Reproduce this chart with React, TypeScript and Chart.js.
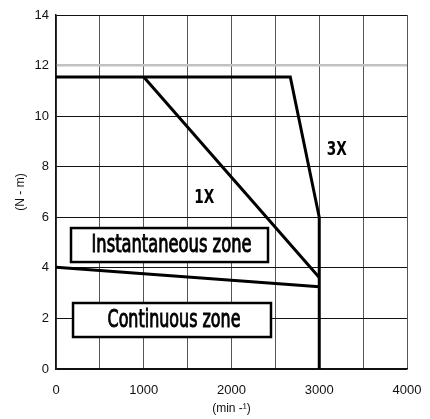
import React, { useEffect, useRef } from 'react';
import { Chart, registerables } from 'chart.js';

Chart.register(...registerables);

// Data (speed in min^-1, torque in N·m)
const peakSpeed = [0, 2670, 3000, 3000];
const peakTorque = [11.55, 11.55, 6.0, 0];
const oneXSpeed = [1000, 3000];
const oneXTorque = [11.55, 3.62];
const contSpeed = [0, 3000];
const contTorque = [4.02, 3.25];
const maxTorqueLine = 12;
const zoneLabels = ['Instantaneous zone', 'Continuous zone'];
const curveLabels = ['1X', '3X'];
const xTickLabels = [0, 1000, 2000, 3000, 4000];

const toPoints = (xs: number[], ys: number[]) => xs.map((v, i) => ({ x: v, y: ys[i] }));

const annotationPlugin = {
  id: 'zoneAnnotations',
  afterDatasetsDraw(chart: any) {
    const { ctx, scales } = chart;
    const x = scales.x;
    const y = scales.y;
    const boxes = [
      { x0: 171, x1: 2416, y0: 5.575, y1: 4.23, text: zoneLabels[0], w: 160 },
      { x0: 194, x1: 2450, y0: 2.61, y1: 1.265, text: zoneLabels[1], w: 133 },
    ];
    ctx.save();
    boxes.forEach((b) => {
      const px0 = x.getPixelForValue(b.x0);
      const px1 = x.getPixelForValue(b.x1);
      const py0 = y.getPixelForValue(b.y0);
      const py1 = y.getPixelForValue(b.y1);
      ctx.fillStyle = '#ffffff';
      ctx.fillRect(px0, py0, px1 - px0, py1 - py0);
      ctx.strokeStyle = '#000';
      ctx.lineWidth = 2.5;
      ctx.strokeRect(px0, py0, px1 - px0, py1 - py0);
      ctx.font = '24px "DejaVu Sans Condensed", "Liberation Sans Narrow", sans-serif';
      const m = ctx.measureText(b.text).width;
      const sx = b.w / m;
      ctx.save();
      ctx.translate((px0 + px1) / 2 + 2, (py0 + py1) / 2 + 1);
      ctx.scale(sx, 1);
      ctx.fillStyle = '#000';
      ctx.strokeStyle = '#000';
      ctx.lineWidth = 0.9;
      ctx.textAlign = 'center';
      ctx.textBaseline = 'middle';
      ctx.fillText(b.text, 0, 0);
      ctx.strokeText(b.text, 0, 0);
      ctx.restore();
    });
    const tags = [
      { vx: 1690, vy: 6.76, text: curveLabels[0] },
      { vx: 3200, vy: 8.66, text: curveLabels[1] },
    ];
    tags.forEach((t) => {
      ctx.font = '600 19px "DejaVu Sans Condensed", "Liberation Sans Narrow", sans-serif';
      const m = ctx.measureText(t.text).width;
      ctx.save();
      ctx.translate(x.getPixelForValue(t.vx), y.getPixelForValue(t.vy));
      ctx.scale(20 / m, 1);
      ctx.fillStyle = '#000';
      ctx.textAlign = 'center';
      ctx.textBaseline = 'middle';
      ctx.fillText(t.text, 0, 0);
      ctx.restore();
    });
    ctx.restore();
  },
};

export default function App() {
  const ref = useRef<HTMLCanvasElement | null>(null);

  useEffect(() => {
    if (!ref.current) return;
    const lineStyle = {
      showLine: true,
      borderColor: '#000',
      borderWidth: 3,
      pointRadius: 0,
      borderJoinStyle: 'miter' as const,
      fill: false,
      tension: 0,
    };
    const tickFont = { family: '"Liberation Sans", Arial, sans-serif', size: 13 };
    const chart = new Chart(ref.current, {
      type: 'scatter',
      data: {
        datasets: [
          { ...lineStyle, data: toPoints(peakSpeed, peakTorque) },
          { ...lineStyle, data: toPoints(oneXSpeed, oneXTorque) },
          { ...lineStyle, data: toPoints(contSpeed, contTorque) },
        ],
      },
      options: {
        animation: false,
        responsive: false,
        devicePixelRatio: 1,
        layout: { padding: { left: 0, right: 23, top: 15, bottom: 0 } },
        plugins: { legend: { display: false }, tooltip: { enabled: false } },
        scales: {
          x: {
            type: 'linear',
            min: 0,
            max: 4000,
            ticks: {
              stepSize: 500,
              color: '#111',
              font: tickFont,
              padding: 14,
              maxRotation: 0,
              autoSkip: false,
              callback: (v: any) => (xTickLabels.includes(Number(v)) ? String(v) : ''),
            },
            grid: { color: '#555', lineWidth: 1, drawTicks: false },
            border: { color: '#111', width: 1.5 },
            title: {
              display: true,
              text: '(min -¹)',
              color: '#111',
              font: { family: '"Liberation Sans", Arial, sans-serif', size: 12 },
              padding: { top: 0, bottom: 3 },
            },
            afterFit: (s: any) => {
              s.height = 50;
              s.paddingLeft = 0;
              s.paddingRight = 0;
            },
          },
          y: {
            type: 'linear',
            min: 0,
            max: 14,
            ticks: {
              stepSize: 2,
              color: '#111',
              font: tickFont,
              padding: 7,
            },
            grid: {
              drawTicks: false,
              color: (c: any) => (c.tick && c.tick.value === maxTorqueLine ? '#c2c2c2' : '#111'),
              lineWidth: (c: any) => (c.tick && c.tick.value === maxTorqueLine ? 2.5 : 1),
            },
            border: { color: '#111', width: 1.5 },
            title: {
              display: true,
              text: '(N - m)',
              color: '#111',
              font: { family: '"Liberation Sans", Arial, sans-serif', size: 12 },
              padding: { top: 13, bottom: 0 },
            },
            afterFit: (s: any) => {
              s.width = 56;
              s.paddingTop = 0;
              s.paddingBottom = 0;
            },
          },
        },
      },
      plugins: [annotationPlugin],
    });
    return () => chart.destroy();
  }, []);

  return (
    <div style={{ position: 'absolute', left: 0, top: 0, width: 430, height: 419, background: '#fff' }}>
      <canvas ref={ref} width={430} height={419} style={{ display: 'block' }} />
    </div>
  );
}
